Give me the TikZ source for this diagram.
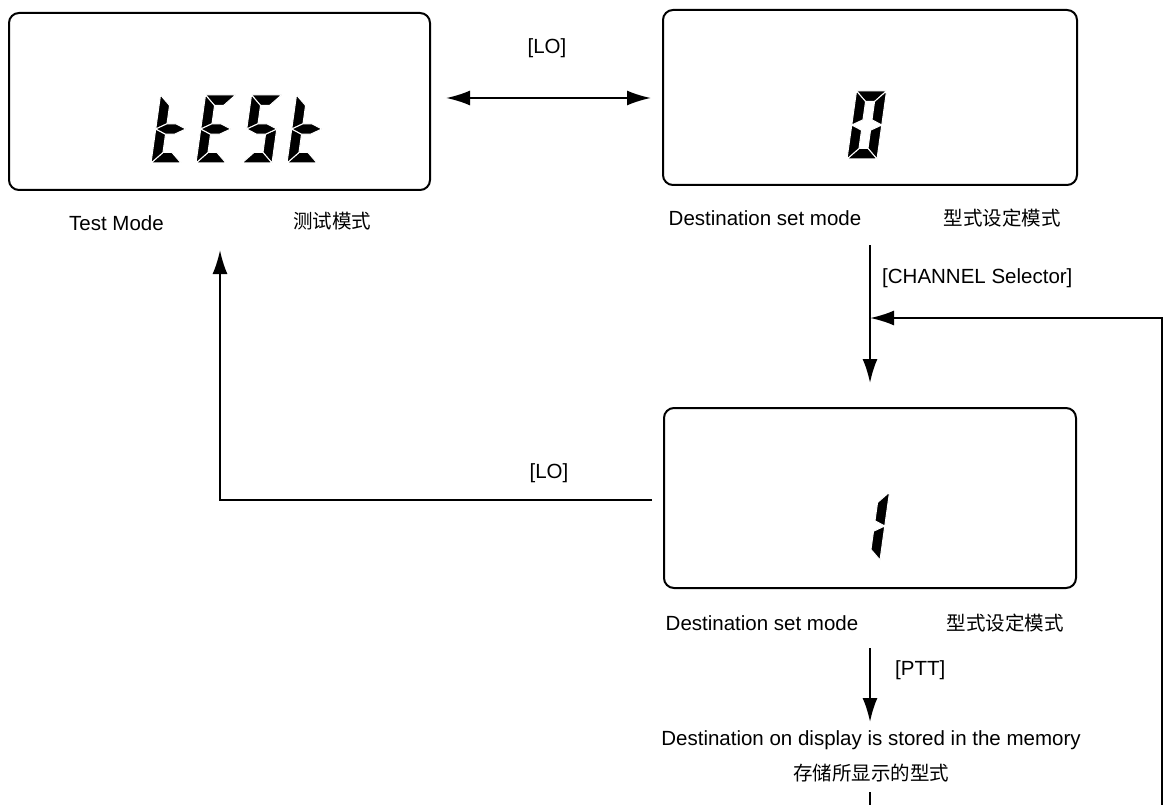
\documentclass[tikz,border=0pt]{standalone}
\usepackage{fontspec}
\setmainfont{Liberation Sans}
\newfontfamily\cjk{Noto Sans CJK SC}
\usetikzlibrary{arrows.meta,calc}
\tikzset{
  lcdbox/.style={draw, line width=2pt, rounded corners=10pt, inner sep=0pt},
  lbl/.style={inner sep=0pt, font=\fontsize{20.5}{24}\selectfont},
  cjklbl/.style={inner sep=0pt, font=\cjk\fontsize{19.5}{24}\selectfont},
  conn/.style={line width=2pt},
  arr/.style={line width=2pt, -{Latex[length=24pt,width=15pt]}},
  darr/.style={line width=2pt, {Latex[length=24pt,width=15pt]}-{Latex[length=24pt,width=15pt]}},
  lcdseg/.style={fill=black, draw=white, line width=1pt}
}
\newcommand\sA{\filldraw[lcdseg] (0,68) -- (30,68) -- (19.5,57.5) -- (10.5,57.5) -- cycle;}
\newcommand\sB{\filldraw[lcdseg] (30,68) -- (19.5,57.5) -- (19.5,39.2) -- (30,34) -- cycle;}
\newcommand\sC{\filldraw[lcdseg] (30,0) -- (19.5,10.5) -- (19.5,28.8) -- (30,34) -- cycle;}
\newcommand\sD{\filldraw[lcdseg] (0,0) -- (30,0) -- (19.5,10.5) -- (10.5,10.5) -- cycle;}
\newcommand\sE{\filldraw[lcdseg] (0,0) -- (10.5,10.5) -- (10.5,28.8) -- (0,34) -- cycle;}
\newcommand\sF{\filldraw[lcdseg] (0,68) -- (10.5,57.5) -- (10.5,39.2) -- (0,34) -- cycle;}
\newcommand\sG{\filldraw[lcdseg] (0,34) -- (10.5,39.2) -- (19.5,39.2) -- (30,34) -- (19.5,28.8) -- (10.5,28.8) -- cycle;}
\newcommand\lcddigit[3]{\begin{scope}[shift={(#1,#2)}, xslant=0.14, y=1pt]#3\end{scope}}
\begin{document}
\begin{tikzpicture}[x=1pt, y=-1pt]
\useasboundingbox (0,0) rectangle (1167,805);
\fill[white] (0,0) rectangle (1167,805);

% display boxes
\node[lcdbox, minimum width=421pt, minimum height=177pt] (b1) at (219.5,101.5) {};
\node[lcdbox, minimum width=414pt, minimum height=175pt] (b2) at (870,97.5) {};
\node[lcdbox, minimum width=412pt, minimum height=180pt] (b3) at (870,498) {};

% segment digits
\lcddigit{151}{163}{\sD\sE\sF\sG}
\lcddigit{196}{163}{\sA\sD\sE\sF\sG}
\lcddigit{242}{163}{\sA\sC\sD\sF\sG}
\lcddigit{287}{163}{\sD\sE\sF\sG}
\lcddigit{847}{159}{\sA\sB\sC\sD\sE\sF}
\lcddigit{850}{560}{\sB\sC}

% labels
\node[lbl] (tm) at (116.5,223) {Test Mode};
\node[cjklbl] (tmc) at (332,221) {测试模式};
\node[lbl] (d1) at (765,218) {Destination set mode};
\node[cjklbl] (d1c) at (1002,218) {型式设定模式};
\node[lbl] (lo1) at (547,48) {[LO]};
\node[lbl, anchor=west] (ch) at (882,278) {[CHANNEL Selector]};
\node[lbl] (lo2) at (549,473) {[LO]};
\node[lbl] (d2) at (762,623) {Destination set mode};
\node[cjklbl] (d2c) at (1005,623) {型式设定模式};
\node[lbl, anchor=west] (ptt) at (895,670) {[PTT]};
\node[lbl] (st) at (871,740) {Destination on display is stored in the memory};
\node[cjklbl] (stc) at (871,773) {存储所显示的型式};

% coordinates
\coordinate (y98) at (0,98);
\coordinate (chs) at (870,245);
\coordinate (lo2e) at (652,500);
\coordinate (lo2c) at (220,500);
\coordinate (lo2t) at (220,250);
\coordinate (fbb) at (1162,805);
\coordinate (fbc) at (1162,318);
\coordinate (fbj) at (870,318);
\coordinate (ptts) at (870,648);
\coordinate (pttt) at (870,722);
\coordinate (bots) at (870,792);
\coordinate (bote) at (870,805);

% connectors
\draw[darr, shorten <=15pt, shorten >=11pt] (b1.east |- y98) -- (b2.west |- y98);
\draw[arr, shorten >=24pt] (chs) -- (b3.north);
\draw[arr] (lo2e) -- (lo2c) -- (lo2t);
\draw[arr] (fbb) -- (fbc) -- (fbj);
\draw[arr] (ptts) -- (pttt);
\draw[conn] (bots) -- (bote);
\end{tikzpicture}
\end{document}
